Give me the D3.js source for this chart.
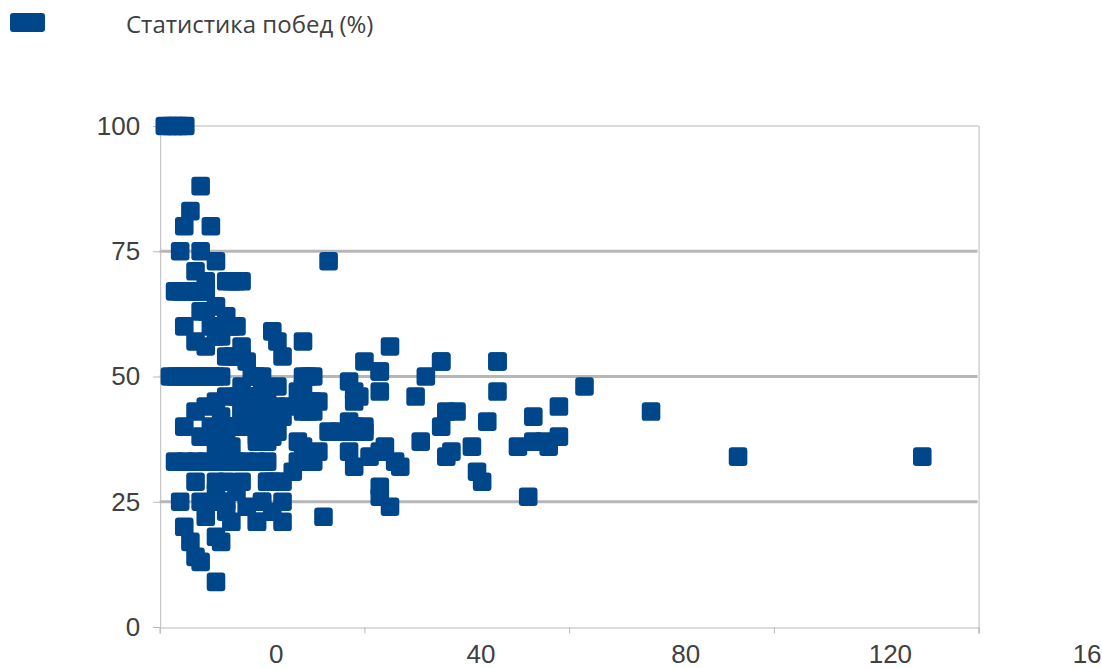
<!DOCTYPE html>
<html><head><meta charset="utf-8">
<script src="https://cdn.jsdelivr.net/npm/d3@7"></script>
<style>html,body{margin:0;padding:0;background:#fff;overflow:hidden}svg{display:block}</style>
</head><body><div id="c"></div>
<script>
const seriesName = "Статистика побед (%)";
const xTicks = [0, 40, 80, 120, 160];
const xTickLabels = ["0", "40", "80", "120", "16"];
const yTicks = [0, 25, 50, 75, 100];
const games = [
 1,2,3,4,5, 8, 6, 4.8,10, 4,8, 11, 7,9, 13,14,15,16, 3,4,5,6,7,8,9,
 11, 8,9, 13, 4.8,10,12,14,15, 7, 11,12, 9,16, 13,14,15,16, 17,
 22,23,24,28,
 2,3,4,5,6,7,8,9,10,11,12, 18,19,20, 28,29,30, 52,
 40,43,55,66, 45, 43, 43,37,38,39,38, 37, 33,35,37,39,40, 40,38, 37,38, 41,43,44,46,47,43,43,45,32,
 27,28,31, 27,29,30, 26, 21,22,23,24, 20,24, 19,24, 22,
 23, 27,28, 28,29,30,31, 28,29,30, 25, 24, 23,
 13,15,17,19, 11, 9, 7, 4.8,10,12,15, 16,18,20, 12, 14, 8, 11,12,14, 19,
 3,5,7,9,11,13,15,17,19,21, 7,11,13,16,21, 11,15, 4,8,11,12,13, 17, 20, 13, 9, 14,19, 4.8, 11, 12,6, 7, 8, 11,
 72,51,55,56,58,56,57,61,62,63,64,70,73,73,75,76,78,78,83,96,113,149,33,50,55,66,66,
 16,18,20, 16,18,20,22, 13,17, 11,13,19,21,22, 21, 16,20,21,23
];
const winPct = [
 100,100,100,100,100, 88, 83, 80,80, 75,75, 73, 71,69, 69,69,69,69, 67,67,67,67,67,67,67,
 64, 63,63, 62, 60,60,60,60,60, 57, 58,58, 56,56, 54,54,54,54, 53,
 59,57,54,57,
 50,50,50,50,50,50,50,50,50,50,50, 50,50,50, 50,50,50, 50,
 53,51,53,53, 56, 47, 51,49,47,46,45, 41, 39,39,39,39,39, 40,40, 35,32, 34,35,36,33,32,28,26,24,22,
 37,36,35, 33,33,33, 31, 29,29,29,29, 25,25, 21,21, 23,
 48, 47,48, 45,45,45,45, 43,43,43, 44, 42, 39,
 46,46,46,46, 45, 44, 43, 40,40,40,40, 44,44,44, 42, 40, 38, 36,36,36, 37,
 33,33,33,33,33,33,33,33,33,33, 29,29,29,29,29, 27,27, 25,25,25,25,25, 24, 25, 23, 22, 21,21, 20, 18, 17,17, 14, 13, 9,
 26,37,40,43,43,34,35,36,31,29,41,36,42,37,37,36,38,44,48,43,34,34,73,46,53,53,47,
 43,43,43, 41,41,41,41, 40,40, 38,38,38,38,38, 37, 48,47,46,44
];

const W = 1102, H = 668;
const x = d3.scaleLinear().domain([0,160]).range([159.7,978.6]);
const y = d3.scaleLinear().domain([0,100]).range([627,126]);
const svg = d3.select("#c").append("svg").attr("width",W).attr("height",H);
const blue = "#00468b", font = "'Liberation Sans', Arial, sans-serif";

svg.append("g").selectAll("line").data(yTicks.filter(d=>d>0&&d<100)).join("line")
  .attr("x1",x(0)).attr("x2",x(160)-1).attr("y1",d=>y(d)).attr("y2",d=>y(d))
  .attr("stroke","#b7b7b7").attr("stroke-width",3);
svg.append("line").attr("x1",x(0)).attr("x2",x(160)).attr("y1",y(100)).attr("y2",y(100))
  .attr("stroke","#cfcfcf").attr("stroke-width",1.5);
svg.append("line").attr("x1",x(160)+.5).attr("x2",x(160)+.5).attr("y1",y(100)).attr("y2",y(0)+6)
  .attr("stroke","#b9b9b9").attr("stroke-width",1);

const yAxis = svg.append("g").attr("transform",`translate(${x(0)+.5},0)`)
  .call(d3.axisLeft(y).tickValues(yTicks).tickSize(7).tickPadding(13));
const xAxis = svg.append("g").attr("transform",`translate(0,${y(0)+.5})`)
  .call(d3.axisBottom(x).tickValues(xTicks).tickFormat((d,i)=>xTickLabels[i]).tickSize(6).tickPadding(11));
[yAxis,xAxis].forEach(g=>{
  g.selectAll("path.domain,line").attr("stroke","#b9b9b9");
  g.selectAll("text").attr("fill","#404040").attr("font-family",font).attr("font-size",26);
});
xAxis.selectAll("text").attr("dx",(d,i)=> i===4 ? 108 : 116);

const size = 18.6;
svg.append("g").selectAll("rect").data(games.map((g,i)=>[g,winPct[i]])).join("rect")
  .attr("x",d=>x(d[0])-size/2).attr("y",d=>y(d[1])-size/2)
  .attr("width",size).attr("height",size).attr("rx",3.2).attr("fill",blue);

svg.append("rect").attr("x",10).attr("y",13).attr("width",35).attr("height",19).attr("rx",3).attr("fill",blue);
svg.append("text").attr("x",126).attr("y",33).attr("font-family","'Open Sans', sans-serif")
  .attr("font-size",24).attr("fill","#404040").text(seriesName);
</script></body></html>
